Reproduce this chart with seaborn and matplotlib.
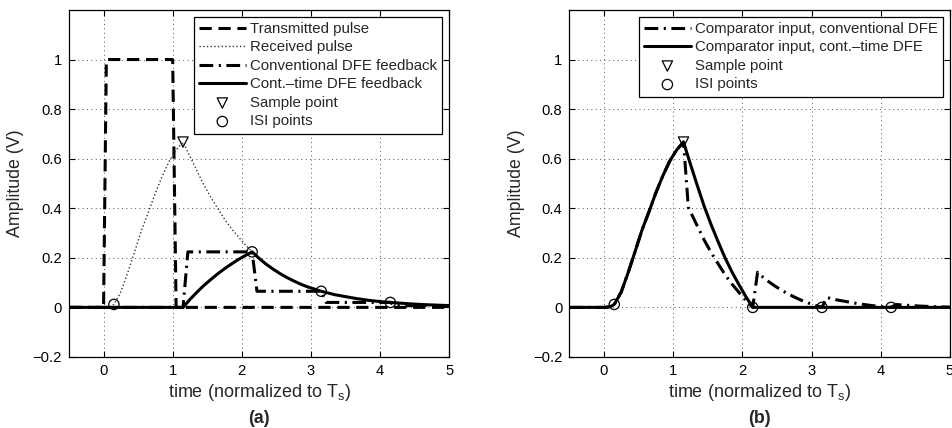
import matplotlib
matplotlib.use("Agg")
import matplotlib.pyplot as plt
import seaborn as sns

# ---- pulse data (time normalized to the symbol period T_s) ----
t_tx = [-0.5, 0.0, 0.04, 1.0, 1.05, 5.0]
v_tx = [0.0, 0.0, 1.0, 1.0, 0.0, 0.0]

t_rx = [-0.5, 0.0, 0.05, 0.10, 0.15, 0.25, 0.35, 0.45, 0.55, 0.65, 0.75, 0.85,
        0.95, 1.05, 1.15, 1.25, 1.35, 1.45, 1.55, 1.65, 1.75, 1.85, 1.95, 2.05,
        2.15, 2.25, 2.35, 2.45, 2.55, 2.65, 2.75, 2.85, 2.95, 3.05, 3.15, 3.25,
        3.35, 3.45, 3.55, 3.65, 3.75, 3.85, 3.95, 4.05, 4.15, 4.25, 4.35, 4.45,
        4.55, 4.65, 4.75, 4.85, 4.95, 5.0]
v_rx = [0.0, 0.0, 0.001, 0.004, 0.012, 0.062, 0.140, 0.225, 0.312, 0.385, 0.462,
        0.530, 0.590, 0.635, 0.667, 0.610, 0.552, 0.495, 0.445, 0.400, 0.356,
        0.318, 0.285, 0.253, 0.224, 0.198, 0.175, 0.155, 0.137, 0.121, 0.107,
        0.094, 0.083, 0.074, 0.065, 0.058, 0.051, 0.046, 0.041, 0.036, 0.032,
        0.028, 0.025, 0.022, 0.020, 0.018, 0.016, 0.014, 0.0125, 0.011, 0.0099,
        0.0088, 0.0078, 0.0074]

# conventional (sampled) DFE feedback: held ISI levels
t_fb_conv = [-0.5, 1.15, 1.22, 2.15, 2.22, 3.15, 3.22, 4.15, 4.22, 5.0]
v_fb_conv = [0.0, 0.0, 0.224, 0.224, 0.065, 0.065, 0.020, 0.020, 0.007, 0.007]

# continuous-time DFE feedback
t_fb_ct = [-0.5, 1.15, 1.25, 1.35, 1.45, 1.55, 1.65, 1.75, 1.85, 1.95, 2.05,
           2.15, 2.25, 2.35, 2.45, 2.55, 2.65, 2.75, 2.85, 2.95, 3.05, 3.15,
           3.25, 3.35, 3.45, 3.55, 3.65, 3.75, 3.85, 3.95, 4.05, 4.15, 4.25,
           4.35, 4.45, 4.55, 4.65, 4.75, 4.85, 4.95, 5.0]
v_fb_ct = [0.0, 0.0, 0.032, 0.061, 0.088, 0.112, 0.135, 0.156, 0.175, 0.193,
           0.209, 0.224, 0.198, 0.175, 0.155, 0.137, 0.121, 0.107, 0.094, 0.083,
           0.074, 0.065, 0.058, 0.051, 0.046, 0.041, 0.036, 0.032, 0.028, 0.025,
           0.022, 0.020, 0.018, 0.016, 0.014, 0.0125, 0.011, 0.0099, 0.0088,
           0.0078, 0.0074]

# comparator input with the conventional DFE
t_cmp_conv = [-0.5, 0.0, 0.05, 0.10, 0.15, 0.25, 0.35, 0.45, 0.55, 0.65, 0.75,
              0.85, 0.95, 1.05, 1.15, 1.22, 1.35, 1.45, 1.55, 1.65, 1.75, 1.85,
              1.95, 2.05, 2.15, 2.22, 2.25, 2.35, 2.45, 2.55, 2.65, 2.75, 2.85,
              2.95, 3.05, 3.15, 3.22, 3.35, 3.45, 3.55, 3.65, 3.75, 3.85, 3.95,
              4.05, 4.15, 4.22, 4.35, 4.55, 4.75, 5.0]
v_cmp_conv = [0.0, 0.0, 0.001, 0.004, 0.012, 0.062, 0.140, 0.225, 0.312, 0.385,
              0.462, 0.530, 0.590, 0.635, 0.667, 0.403, 0.328, 0.271, 0.221,
              0.176, 0.132, 0.094, 0.061, 0.029, 0.0, 0.142, 0.133, 0.110,
              0.090, 0.072, 0.056, 0.042, 0.029, 0.018, 0.009, 0.0, 0.040,
              0.031, 0.026, 0.021, 0.016, 0.012, 0.008, 0.005, 0.002, 0.0,
              0.0115, 0.009, 0.0055, 0.003, 0.001]

# comparator input with the continuous-time DFE
t_cmp_ct = [-0.5, 0.0, 0.05, 0.10, 0.15, 0.25, 0.35, 0.45, 0.55, 0.65, 0.75,
            0.85, 0.95, 1.05, 1.15, 1.25, 1.35, 1.45, 1.55, 1.65, 1.75, 1.85,
            1.95, 2.05, 2.15, 5.0]
v_cmp_ct = [0.0, 0.0, 0.001, 0.004, 0.012, 0.062, 0.140, 0.225, 0.312, 0.385,
            0.462, 0.530, 0.590, 0.635, 0.667, 0.578, 0.491, 0.407, 0.333,
            0.265, 0.200, 0.143, 0.092, 0.044, 0.0, 0.0]

# sampling instants
t_sample = [1.15]
v_sample_a = [0.667]
v_sample_b = [0.667]
t_isi = [0.15, 2.15, 3.15, 4.15]
v_isi_a = [0.012, 0.224, 0.065, 0.020]
v_isi_b = [0.012, 0.0, 0.0, 0.0]

x_ticks = [0, 1, 2, 3, 4, 5]
y_ticks = [-0.2, 0.0, 0.2, 0.4, 0.6, 0.8, 1.0]
y_tick_labels = ["\u22120.2", "0", "0.2", "0.4", "0.6", "0.8", "1"]

sns.set_style("ticks")
plt.rcParams["font.family"] = ["Liberation Sans", "DejaVu Sans"]
plt.rcParams["mathtext.default"] = "regular"
plt.rcParams["axes.linewidth"] = 0.9

fig = plt.figure(figsize=(9.52, 4.28), dpi=100)
ax_a = fig.add_axes([0.0725, 0.166, 0.3992, 0.8107])
ax_b = fig.add_axes([0.598, 0.166, 0.3999, 0.8107])

LW = 2.2
dash = (0, (4.0, 2.2))
dashdot = (0, (4.5, 1.8, 0.7, 1.8))


def draw_line(ax, x, y, style, lw, label, color="black"):
    sns.lineplot(x=x, y=y, ax=ax, color=color, linewidth=lw, linestyle=style,
                 estimator=None, sort=False, label=label)


def draw_marks(ax, x, y, marker, label):
    sns.scatterplot(x=x, y=y, ax=ax, marker=marker, s=55, label=label,
                    facecolors="none", edgecolors="black", linewidths=0.9,
                    zorder=5)


# (a) pulses and feedback signals
draw_line(ax_a, t_tx, v_tx, dash, LW, "Transmitted pulse")
draw_line(ax_a, t_rx, v_rx, ":", 1.0, "Received pulse", color="#333333")
draw_line(ax_a, t_fb_conv, v_fb_conv, dashdot, LW, "Conventional DFE feedback")
draw_line(ax_a, t_fb_ct, v_fb_ct, "-", LW, "Cont.\u2013time DFE feedback")
draw_marks(ax_a, t_sample, v_sample_a, "v", "Sample point")
draw_marks(ax_a, t_isi, v_isi_a, "o", "ISI points")

# (b) comparator inputs
draw_line(ax_b, t_cmp_conv, v_cmp_conv, dashdot, LW,
          "Comparator input, conventional DFE")
draw_line(ax_b, t_cmp_ct, v_cmp_ct, "-", LW,
          "Comparator input, cont.\u2013time DFE")
draw_marks(ax_b, t_sample, v_sample_b, "v", "Sample point")
draw_marks(ax_b, t_isi, v_isi_b, "o", "ISI points")

for ax, tag in ((ax_a, "(a)"), (ax_b, "(b)")):
    ax.set_xlim(-0.5, 5.0)
    ax.set_ylim(-0.2, 1.2)
    ax.set_xticks(x_ticks)
    ax.set_xticklabels([str(v) for v in x_ticks])
    ax.set_yticks(y_ticks)
    ax.set_yticklabels(y_tick_labels)
    ax.tick_params(direction="in", length=4, width=0.8, top=True, right=True,
                   labelsize=10.6, pad=5, colors="black")
    ax.grid(True, color="#555555", linestyle=(0, (1, 3.5)), linewidth=0.7)
    for s in ax.spines.values():
        s.set_visible(True)
        s.set_color("black")
    ax.set_xlabel("time (normalized to T$_s$)", fontsize=13, labelpad=3)
    ax.set_ylabel("Amplitude (V)", fontsize=12.8, labelpad=6)
    leg = ax.legend(loc="upper right", fontsize=10.8, frameon=True,
                    fancybox=False, framealpha=1, edgecolor="black",
                    handlelength=3.1, handletextpad=0.3, labelspacing=0.3,
                    borderpad=0.35, borderaxespad=0.45, scatterpoints=1)
    leg.get_frame().set_linewidth(0.9)
    ax.text(0.5, -0.176, tag, transform=ax.transAxes, ha="center",
            va="center", fontsize=12.8, fontweight="bold")

fig.savefig("out.png", dpi=100)
